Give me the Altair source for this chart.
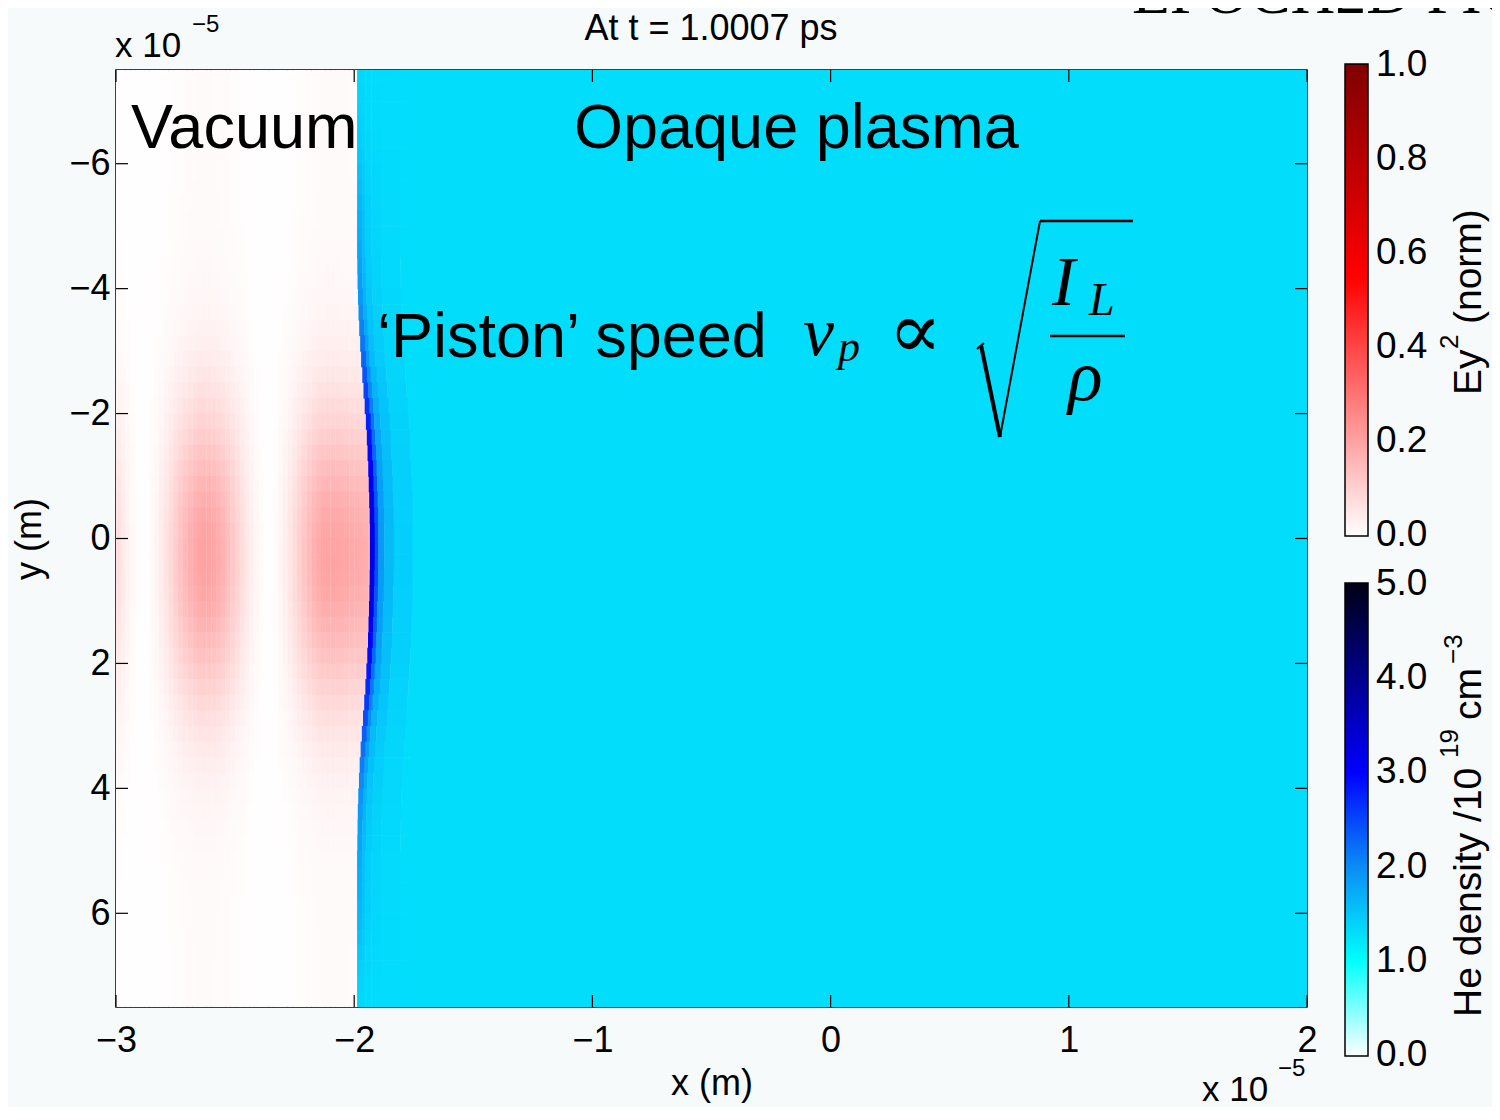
import altair as alt
import pandas as pd

# ---------------- data ----------------
x_ticks = [-3, -2, -1, 0, 1, 2]            # x 1e-5 m
y_ticks = [-6, -4, -2, 0, 2, 4, 6]
ey_bar_values = [0.0, 0.2, 0.4, 0.6, 0.8, 1.0]
he_bar_values = [0.0, 1.0, 2.0, 3.0, 4.0, 5.0]

# grid of the simulation window (x: 1e-5 m, y as labelled)
x_start, x_step, n_x = -3.0, 0.02, 54
y_start, y_step, n_y = -7.5, 0.25, 60

# Ey^2 (norm) along x through the pulse centre (column centres -2.99 ... -1.93)
ey_x_profile = [
    0.067, 0.045, 0.027, 0.013, 0.004, 0.000, 0.002, 0.010, 0.022, 0.040,
    0.060, 0.083, 0.107, 0.130, 0.152, 0.171, 0.185, 0.195, 0.200, 0.198,
    0.192, 0.179, 0.163, 0.143, 0.120, 0.096, 0.073, 0.050, 0.031, 0.016,
    0.006, 0.000, 0.001, 0.007, 0.019, 0.035, 0.054, 0.077, 0.100, 0.124,
    0.147, 0.167, 0.183, 0.194, 0.199, 0.199, 0.197, 0.194, 0.190, 0.186,
    0.182, 0.178, 0.174, 0.170,
]
# transverse envelope of the pulse (row centres -7.375 ... 7.375)
ey_y_envelope = [
    0.040, 0.040, 0.040, 0.040, 0.040, 0.041, 0.041, 0.042, 0.044, 0.046,
    0.049, 0.054, 0.062, 0.072, 0.087, 0.106, 0.132, 0.166, 0.207, 0.258,
    0.318, 0.387, 0.463, 0.545, 0.630, 0.715, 0.796, 0.868, 0.927, 0.970,
    0.995, 0.999, 0.983, 0.946, 0.893, 0.825, 0.748, 0.665, 0.579, 0.495,
    0.416, 0.344, 0.281, 0.226, 0.181, 0.145, 0.116, 0.094, 0.077, 0.066,
    0.057, 0.051, 0.047, 0.044, 0.043, 0.042, 0.041, 0.040, 0.040, 0.040,
]
# position of the plasma surface (piston) in each row
plasma_edge_x = [
    -1.988, -1.988, -1.988, -1.988, -1.988, -1.988, -1.988, -1.988, -1.988, -1.988,
    -1.988, -1.988, -1.987, -1.986, -1.984, -1.982, -1.979, -1.975, -1.971, -1.966,
    -1.961, -1.956, -1.951, -1.947, -1.944, -1.941, -1.939, -1.937, -1.935, -1.934,
    -1.934, -1.934, -1.935, -1.936, -1.938, -1.940, -1.942, -1.945, -1.949, -1.953,
    -1.958, -1.963, -1.968, -1.973, -1.977, -1.980, -1.983, -1.985, -1.986, -1.987,
    -1.988, -1.988, -1.988, -1.988, -1.988, -1.988, -1.988, -1.988, -1.988, -1.988,
]
# compressed-layer peak He density (1e19 cm^-3) in each row
plasma_peak_density = [
    1.35, 1.36, 1.38, 1.40, 1.43, 1.47, 1.52, 1.57, 1.62, 1.67,
    1.70, 1.74, 1.79, 1.84, 1.89, 1.97, 2.06, 2.16, 2.27, 2.39,
    2.51, 2.63, 2.76, 2.85, 2.93, 3.00, 3.08, 3.13, 3.18, 3.22,
    3.25, 3.24, 3.20, 3.16, 3.10, 3.04, 2.97, 2.90, 2.81, 2.71,
    2.58, 2.46, 2.33, 2.21, 2.10, 2.01, 1.92, 1.87, 1.81, 1.77,
    1.72, 1.69, 1.65, 1.62, 1.58, 1.52, 1.47, 1.42, 1.38, 1.35,
]
plasma_bulk_density = 1.3
layer_offsets = [0.0, 0.02, 0.035, 0.06, 0.10, 0.18]
layer_fraction = [1.0, 0.6, 0.3, 0.16, 0.06]
bulk_start, x_end = -1.76, 2.0

# ---------------- tables ----------------
field_rows = []
for j in range(n_y):
    y0 = y_start + j * y_step
    for i in range(n_x):
        x0 = x_start + i * x_step
        field_rows.append({"x0": x0, "x1": x0 + x_step * 1.05,
                           "y0": y0, "y1": y0 + y_step * 1.04,
                           "ey": ey_x_profile[i] * ey_y_envelope[j]})
field_df = pd.DataFrame(field_rows)

plasma_rows = [{"x0": bulk_start, "x1": x_end, "y0": y_start, "y1": y_start + n_y * y_step,
                "dens": plasma_bulk_density}]
for j in range(n_y):
    y0 = y_start + j * y_step
    b = plasma_edge_x[j]
    peak = plasma_peak_density[j]
    for k, frac in enumerate(layer_fraction):
        plasma_rows.append({"x0": b + layer_offsets[k], "x1": b + layer_offsets[k + 1] + 0.002,
                            "y0": y0, "y1": y0 + y_step * 1.04,
                            "dens": plasma_bulk_density + (peak - plasma_bulk_density) * frac})
    plasma_rows.append({"x0": b + layer_offsets[-1], "x1": bulk_start + 0.003,
                        "y0": y0, "y1": y0 + y_step * 1.04, "dens": plasma_bulk_density})
plasma_df = pd.DataFrame(plasma_rows)

# ---------------- layout ----------------
W, H = 1191, 937
FONT = "Liberation Sans"

xscale = alt.Scale(domain=[-3, 2], nice=False, zero=False)
yscale = alt.Scale(domain=[-7.5, 7.5], nice=False, zero=False, reverse=True)
xaxis = alt.Axis(values=x_ticks, title="x (m)", ticks=False, domain=False, grid=False,
                 labelFont=FONT, labelFontSize=36, labelColor="black", labelPadding=16,
                 labelFlush=False, labelOverlap=False,
                 titleFont=FONT, titleFontSize=36, titleFontWeight="normal",
                 titleColor="black", titlePadding=8)
yaxis = alt.Axis(values=y_ticks, title="y (m)", ticks=False, domain=False, grid=False,
                 labelFont=FONT, labelFontSize=36, labelColor="black", labelPadding=6,
                 labelFlush=False, labelOverlap=False,
                 titleFont=FONT, titleFontSize=36, titleFontWeight="normal",
                 titleColor="black", titlePadding=20)


def legend(y_pos, length, values):
    return alt.Legend(orient="none", legendX=1229, legendY=y_pos, direction="vertical",
                      gradientLength=length, gradientThickness=23, values=values,
                      format=".1f", title=None, labelFont=FONT, labelFontSize=37,
                      labelColor="black", labelOffset=8, labelOverlap=False,
                      gradientStrokeColor="black", gradientStrokeWidth=1.5, padding=0)


field = alt.Chart(field_df).mark_rect(clip=True).encode(
    x=alt.X("x0:Q", scale=xscale, axis=xaxis),
    x2="x1:Q",
    y=alt.Y("y0:Q", scale=yscale, axis=yaxis),
    y2="y1:Q",
    color=alt.Color("ey:Q",
                    scale=alt.Scale(domain=[-0.002, 0.55, 1.002],
                                    range=["#ffffff", "#ff0000", "#7f0000"],
                                    interpolate="rgb"),
                    legend=legend(-6, 472, ey_bar_values)),
)

plasma = alt.Chart(plasma_df).mark_rect(clip=True).encode(
    x=alt.X("x0:Q", scale=xscale, axis=xaxis),
    x2="x1:Q",
    y=alt.Y("y0:Q", scale=yscale, axis=yaxis),
    y2="y1:Q",
    color=alt.Color("dens:Q",
                    scale=alt.Scale(domain=[-0.01, 1, 2, 3, 4, 5.01],
                                    range=["#ffffff", "#00ffff", "#0a8cf5",
                                           "#0000ff", "#00008c", "#000014"],
                                    interpolate="rgb"),
                    legend=legend(513, 473, he_bar_values)),
)

xt = pd.DataFrame({"x0": x_ticks})
yt = pd.DataFrame({"y0": y_ticks})
tick_len = 12
bottom_ticks = alt.Chart(xt).mark_rule(color="black", strokeWidth=1.2).encode(
    x=alt.X("x0:Q", scale=xscale, axis=xaxis), y=alt.value(H - tick_len), y2=alt.value(H))
top_ticks = alt.Chart(xt).mark_rule(color="black", strokeWidth=1.2).encode(
    x=alt.X("x0:Q", scale=xscale, axis=xaxis), y=alt.value(0), y2=alt.value(tick_len))
left_ticks = alt.Chart(yt).mark_rule(color="black", strokeWidth=1.2).encode(
    y=alt.Y("y0:Q", scale=yscale, axis=yaxis), x=alt.value(0), x2=alt.value(tick_len))
right_ticks = alt.Chart(yt).mark_rule(color="black", strokeWidth=1.2).encode(
    y=alt.Y("y0:Q", scale=yscale, axis=yaxis), x=alt.value(W - tick_len), x2=alt.value(W))


def note(text, x, y, size, font=FONT, style="normal", align="left",
         baseline="alphabetic", angle=0):
    return alt.Chart(pd.DataFrame({"label": [text]})).mark_text(
        font=font, fontSize=size, fontStyle=style, align=align, baseline=baseline,
        angle=angle, color="black"
    ).encode(text="label:N", x=alt.value(x), y=alt.value(y))


def stroke(x1, y1, x2, y2, w):
    return alt.Chart(pd.DataFrame({"k": [0]})).mark_rule(color="black", strokeWidth=w).encode(
        x=alt.value(x1), y=alt.value(y1), x2=alt.value(x2), y2=alt.value(y2))


texts = [
    note("At t = 1.0007 ps", 595, -30, 36, align="center"),
    note("EPOCH2D PIC", 1016, -57, 62, font="Liberation Serif"),
    note("x 10", -1, -13, 35),
    note("\u22125", 76, -38, 24),
    note("x 10", 1086, 1031, 35),
    note("\u22125", 1162, 1006, 24),
    note("Vacuum", 15, 78, 63),
    note("Opaque plasma", 458, 78, 63),
    note("\u2018Piston\u2019 speed", 261, 287, 63),
    note("v", 687, 285, 70, font="Liberation Serif", style="italic"),
    note("p", 722, 291, 44, font="Liberation Serif", style="italic"),
    note("\u221d", 772, 288, 80, font="DejaVu Serif"),
    note("I", 936, 235, 70, font="Liberation Serif", style="italic"),
    note("L", 973, 245, 46, font="Liberation Serif", style="italic"),
    note("\u03c1", 952, 330, 72, font="Liberation Serif", style="italic"),
    # colour-bar titles, rotated to read upwards
    note("Ey", 1365, 325, 39, angle=270),
    note("2", 1342, 279, 26, angle=270),
    note("(norm)", 1365, 254, 39, angle=270),
    note("He density /10", 1365, 947, 39, angle=270),
    note("19", 1342, 688, 26, angle=270),
    note("cm", 1365, 650, 39, angle=270),
    note("\u22123", 1346, 594, 26, angle=270),
]
radical = [
    stroke(861, 279, 868, 273, 2),
    stroke(865, 275, 884, 367, 4),
    stroke(884, 367, 924, 151, 2),
    stroke(924, 151, 1017, 151, 2.5),
    stroke(934, 266, 1009, 266, 2.5),
]

chart = alt.layer(
    field, plasma, bottom_ticks, top_ticks, left_ticks, right_ticks, *radical, *texts
).resolve_scale(color="independent").properties(
    width=W, height=H, background="#f6fafb",
    padding={"left": 108, "top": 62, "right": 185, "bottom": 100},
    autosize=alt.AutoSizeParams(type="none"),
).configure_view(stroke="black", strokeWidth=1.5, fill="white")

chart.save("out.html", embed_options={"renderer": "svg", "actions": False})
